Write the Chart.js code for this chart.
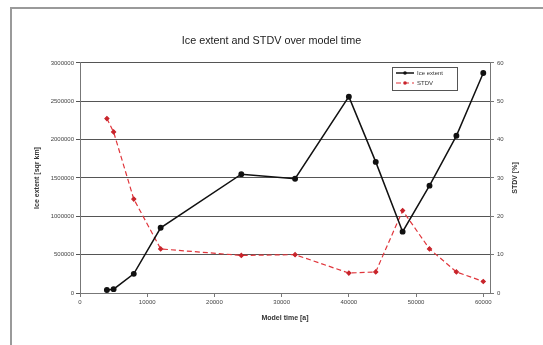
<!DOCTYPE html>
<html>
<head>
<meta charset="utf-8">
<script src="https://cdn.jsdelivr.net/npm/chart.js@4/dist/chart.umd.min.js"></script>
<style>
  html, body { margin: 0; padding: 0; background: #fff; }
  #wrap { position: relative; width: 543px; height: 345px; }
  #frame { position: absolute; left: 10px; top: 7px; right: -5px; bottom: -5px;
           border-left: 2px solid #9a9a9a; border-top: 2px solid #9a9a9a; pointer-events: none; }
  canvas { position: absolute; left: 0; top: 0; }
</style>
</head>
<body>
<div id="wrap">
  <canvas id="chart" width="543" height="345"></canvas>
  <div id="frame"></div>
</div>
<script>
// model time [a]
const modelTime = [4000, 5000, 8000, 12000, 24000, 32000, 40000, 44000, 48000, 52000, 56000, 60000];
// ice extent [sqr km]
const iceExtent = [40000, 50000, 250000, 850000, 1550000, 1490000, 2560000, 1710000, 800000, 1400000, 2050000, 2870000];
// standard deviation [%]
const stdv = [45.5, 42, 24.5, 11.5, 9.8, 10, 5.2, 5.5, 21.5, 11.5, 5.5, 3];

const xTicks = [0, 10000, 20000, 30000, 40000, 50000, 60000];
const tickFont = { family: 'Liberation Sans', size: 6 };
const titleFont = { family: 'Liberation Sans', size: 7, weight: 'bold' };
const plain = (v) => String(v);

const toPoints = (ys) => modelTime.map((t, i) => ({ x: t, y: ys[i] }));

// Excel-style legend box inside the plot area, plus right axis title
const extras = {
  id: 'extras',
  afterDraw(chart) {
    const ctx = chart.ctx;
    ctx.save();
    // right axis title, rotated like the left one
    ctx.fillStyle = '#333';
    ctx.font = 'bold 7px "Liberation Sans"';
    ctx.textAlign = 'center';
    ctx.textBaseline = 'middle';
    ctx.translate(515, 178);
    ctx.rotate(-Math.PI / 2);
    ctx.fillText('STDV [%]', 0, 0);
    ctx.restore();

    ctx.save();
    const bx = 392, by = 67, bw = 65, bh = 23;
    ctx.fillStyle = '#fff';
    ctx.fillRect(bx, by, bw, bh);
    ctx.strokeStyle = '#555';
    ctx.lineWidth = 1;
    ctx.strokeRect(bx + 0.5, by + 0.5, bw, bh);
    ctx.font = '6px "Liberation Sans"';
    ctx.textBaseline = 'middle';
    chart.data.datasets.forEach((ds, i) => {
      const y = by + 6 + i * 10;
      ctx.strokeStyle = ds.borderColor;
      ctx.lineWidth = ds.borderWidth;
      ctx.setLineDash(ds.borderDash || []);
      ctx.beginPath();
      ctx.moveTo(bx + 4, y);
      ctx.lineTo(bx + 22, y);
      ctx.stroke();
      ctx.setLineDash([]);
      ctx.fillStyle = ds.pointBackgroundColor;
      ctx.beginPath();
      ctx.arc(bx + 13, y, 1.8, 0, Math.PI * 2);
      ctx.fill();
      ctx.fillStyle = '#333';
      ctx.fillText(ds.label, bx + 25, y);
    });
    ctx.restore();
  }
};

new Chart(document.getElementById('chart'), {
  type: 'scatter',
  data: {
    datasets: [
      {
        label: 'Ice extent',
        data: toPoints(iceExtent),
        yAxisID: 'y',
        showLine: true,
        borderColor: '#111',
        backgroundColor: '#111',
        pointBackgroundColor: '#111',
        pointBorderColor: '#111',
        borderWidth: 1.5,
        pointRadius: 2.2,
        tension: 0
      },
      {
        label: 'STDV',
        data: toPoints(stdv),
        yAxisID: 'y1',
        showLine: true,
        borderColor: '#e0353b',
        backgroundColor: '#e0353b',
        pointBackgroundColor: '#c8242b',
        pointBorderColor: '#c8242b',
        borderWidth: 1.2,
        borderDash: [5, 3],
        pointStyle: 'rectRot',
        pointRadius: 2,
        tension: 0
      }
    ]
  },
  options: {
    responsive: false,
    animation: false,
    layout: { padding: 0 },
    plugins: {
      legend: { display: false },
      tooltip: { enabled: false },
      title: {
        display: true,
        text: 'Ice extent and STDV over model time',
        color: '#222',
        font: { family: 'Liberation Sans', size: 10.8, weight: 'normal' },
        padding: { top: 35, bottom: 15 }
      }
    },
    scales: {
      x: {
        type: 'linear',
        min: 0,
        max: 61000,
        afterFit: (s) => { s.height = 52; },
        afterBuildTicks: (s) => { s.ticks = xTicks.map(v => ({ value: v })); },
        ticks: { font: tickFont, color: '#444', padding: 2, maxRotation: 0, callback: plain },
        grid: { drawOnChartArea: false, drawTicks: true, tickLength: 4, color: '#777' },
        border: { color: '#777', width: 1 },
        title: { display: true, text: 'Model time [a]', font: titleFont, color: '#333', padding: { top: 8, bottom: 23 } }
      },
      y: {
        position: 'left',
        min: 0,
        max: 3000000,
        afterFit: (s) => { s.width = 80; },
        ticks: { stepSize: 500000, font: tickFont, color: '#444', padding: 2, callback: plain },
        grid: { color: '#555', lineWidth: 1, drawTicks: true, tickLength: 4 },
        border: { color: '#777', width: 1 },
        title: { display: true, text: 'Ice extent [sqr km]', font: titleFont, color: '#333', padding: { top: 33 } }
      },
      y1: {
        position: 'right',
        min: 0,
        max: 60,
        afterFit: (s) => { s.width = 53; },
        ticks: { stepSize: 10, font: tickFont, color: '#444', padding: 3, callback: plain },
        grid: { drawOnChartArea: false, drawTicks: true, tickLength: 4, color: '#777' },
        border: { color: '#777', width: 1 }
      }
    }
  },
  plugins: [extras]
});
</script>
</body>
</html>
